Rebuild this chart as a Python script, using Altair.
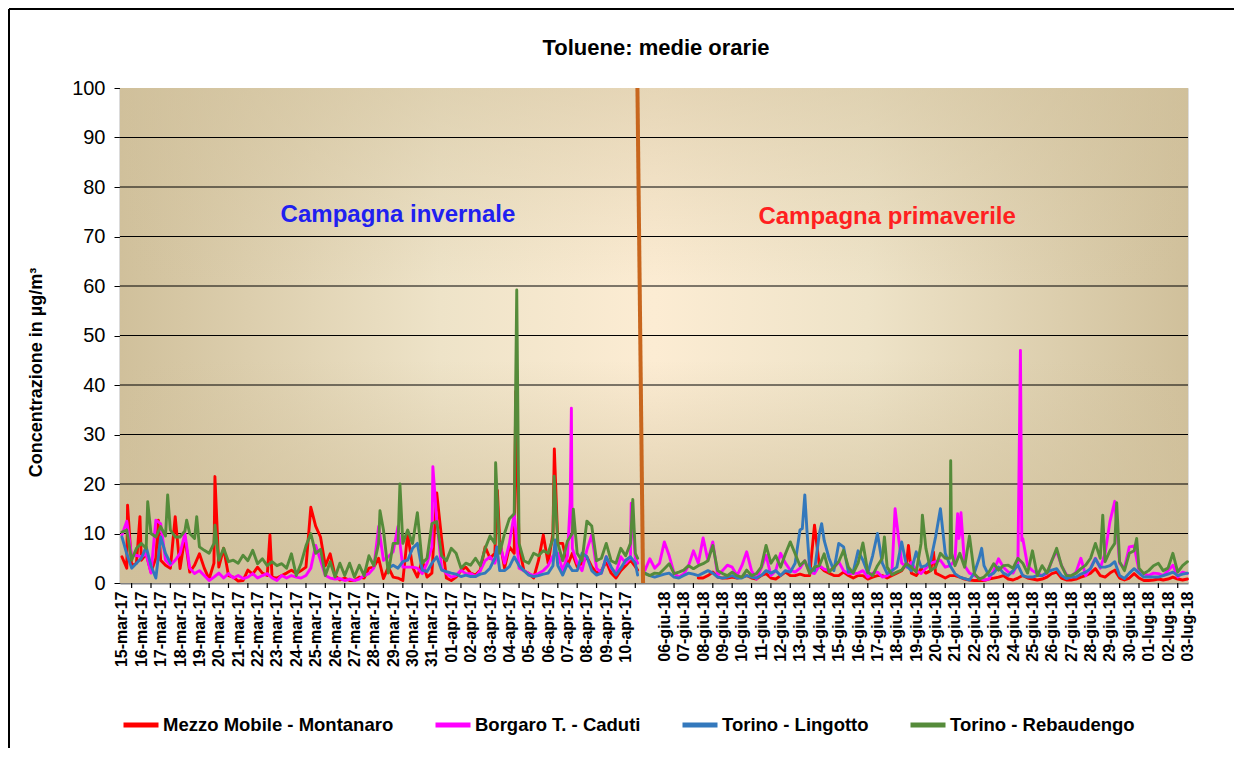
import altair as alt
import pandas as pd

FONT = "Liberation Sans"
SERIES = ["Mezzo Mobile - Montanaro", "Borgaro T. - Caduti", "Torino - Lingotto", "Torino - Rebaudengo"]
COLORS = ["#FF0000", "#FF00FF", "#3378BC", "#558B3A"]
SEP_COLOR = "#C8661E"
TITLE = "Toluene: medie orarie"

# x position unit = one day; winter day k sits at k, spring day j (06-giu) at 28 + j
WINTER_LABELS = ["15-mar-17", "16-mar-17", "17-mar-17", "18-mar-17", "19-mar-17", "20-mar-17",
                 "21-mar-17", "22-mar-17", "23-mar-17", "24-mar-17", "25-mar-17", "26-mar-17",
                 "27-mar-17", "28-mar-17", "29-mar-17", "30-mar-17", "31-mar-17", "01-apr-17",
                 "02-apr-17", "03-apr-17", "04-apr-17", "05-apr-17", "06-apr-17", "07-apr-17",
                 "08-apr-17", "09-apr-17", "10-apr-17"]
SPRING_LABELS = ["06-giu-18", "07-giu-18", "08-giu-18", "09-giu-18", "10-giu-18", "11-giu-18",
                 "12-giu-18", "13-giu-18", "14-giu-18", "15-giu-18", "16-giu-18", "17-giu-18",
                 "18-giu-18", "19-giu-18", "20-giu-18", "21-giu-18", "22-giu-18", "23-giu-18",
                 "24-giu-18", "25-giu-18", "26-giu-18", "27-giu-18", "28-giu-18", "29-giu-18",
                 "30-giu-18", "01-lug-18", "02-lug-18", "03-lug-18"]
SPRING_LABEL_START = 28

STEP = 0.25
WINTER_START = 0.0
SPRING_START = 27.0
N = None

red_winter = [
    5.3, 3.0, 3.5, 4.0, 4.6, 5.9, 2.2, 5.0,
    4.6, 3.6, 3.0, 13.4, 2.9, 9.3, 2.2, 3.6,
    5.9, 3.0, 0.8, 4.0, 3.2, 7.0, 1.5, 1.2,
    0.4, 0.5, 2.6, 1.8, 3.2, 2.0, 1.5, 1.2,
    1.0, 1.5, 2.0, 2.6, 1.9, 2.5, 3.2, 15.3,
    11.5, 9.3, 3.5, 5.9, 1.5, 0.6, 1.0, 0.5,
    0.5, 1.2, 1.0, 3.0, 3.2, 5.0, 0.9, 3.2,
    1.2, 1.0, 0.5, 10.0, 3.2, 1.2, 4.6, 1.2,
    2.0, 18.2, 9.0, 1.0, 0.5, 1.2, 2.5, 3.2,
    2.0, 1.6, 2.6, 7.3, 5.0, 6.0, 8.7, 3.0,
    7.3, 6.0, 7.3, 2.5, 1.9, 1.0, 4.5, 9.7,
    4.0, 10.0, 8.0, 8.0, 3.5, 6.0, 3.3, 4.0,
    5.3, 3.3, 2.0, 2.5, 4.3, 2.0, 1.0, 2.5,
    3.5, 4.6, 3.3]
red_winter_peaks = [(0.29, 15.7), (0.93, 13.4), (1.88, 12.7), (4.8, 21.5), (7.64, 9.7),
                    (19.38, 18.7), (20.33, 38.7), (22.32, 27.1), (26.62, 2.6)]

magenta_winter = [
    9.7, 12.5, 5.5, 5.6, 5.3, 5.9, 2.0, 12.7,
    12.0, 4.6, 3.6, 4.6, 6.0, 10.0, 3.0, 1.9,
    2.5, 1.5, 0.5, 1.2, 2.0, 1.0, 1.9, 1.0,
    1.5, 0.9, 1.2, 1.9, 1.0, 1.5, 1.9, 1.0,
    0.5, 1.5, 1.0, 1.5, 1.2, 1.0, 1.5, 3.0,
    7.6, 4.6, 1.5, 1.0, 0.8, 0.9, 0.5, 0.8,
    0.5, 0.8, 1.5, 1.9, 3.0, 11.4, 4.6, 5.3,
    6.3, 11.4, 3.2, 3.2, 3.2, 3.0, 1.9, 4.0,
    7.3, 12.7, 3.0, 1.9, 1.2, 1.5, 2.6, 1.9,
    1.9, 1.3, 2.5, 4.5, 5.3, 4.0, 8.0, 4.0,
    8.0, 14.0, 3.0, 2.5, 1.9, 1.5, 1.9, 2.5,
    3.5, 5.5, 6.0, 2.5, 5.5, 7.0, 4.0, 2.5,
    6.7, 9.7, 3.0, 2.0, 5.3, 3.0, 2.0, 5.3,
    4.0, 5.0, 5.0]
magenta_winter_peaks = [(16.05, 23.5), (23.14, 16.4), (23.2, 35.3), (23.23, 15.0),
                        (26.29, 16.1), (26.62, 4.0)]

blue_winter = [
    9.3, 5.9, 3.0, 4.0, 5.0, 7.3, 3.5, 1.0,
    9.3, 6.0, 4.0, N, N, N, N, N,
    N, N, N, N, N, N, N, N,
    N, N, N, N, N, N, N, N,
    N, N, N, N, N, N, N, N,
    N, N, N, N, N, N, N, N,
    N, N, N, N, N, N, N, 3.0,
    3.6, 3.0, 4.3, 4.6, 7.0, 8.0, 2.6, 2.3,
    4.0, 5.3, 2.6, 2.3, 2.0, 1.8, 1.3, 1.6,
    1.3, 1.3, 1.8, 2.0, 3.0, 5.0, 2.5, 2.5,
    3.3, 5.3, 3.5, 2.5, 1.6, 1.3, 1.5, 1.8,
    2.0, 3.5, 3.5, 1.6, 3.9, 2.5, 2.5, 6.0,
    5.3, 2.5, 1.6, 2.0, 5.3, 3.3, 1.6, 3.0,
    4.6, 5.3, 4.0]
blue_winter_peaks = [(19.35, 7.3), (22.36, 8.7), (26.62, 1.6)]

green_winter = [
    10.3, 10.7, 4.6, 7.0, 8.0, 7.0, 10.0, 9.3,
    11.4, 9.5, 10.7, 9.3, 9.3, 10.5, 10.0, 9.0,
    7.3, 6.6, 6.0, 8.0, 4.6, 7.0, 4.3, 4.6,
    4.0, 5.6, 4.5, 6.6, 3.9, 4.9, 3.5, 4.3,
    3.5, 3.9, 3.0, 5.9, 1.5, 4.0, 7.5, 10.0,
    6.0, 6.8, 1.5, 4.3, 1.2, 4.0, 1.5, 4.0,
    1.2, 3.6, 1.5, 5.5, 3.5, 8.0, 10.7, 2.0,
    8.0, 8.0, 8.0, 10.7, 8.0, 14.2, 4.0, 5.0,
    12.0, 12.4, 5.5, 4.5, 7.0, 6.0, 3.0, 4.0,
    3.6, 5.0, 3.5, 7.0, 9.5, 8.0, 6.0, 10.0,
    13.0, 14.0, 8.0, 4.5, 4.0, 6.0, 5.5, 6.5,
    6.0, 9.0, 8.0, 4.5, 8.5, 10.0, 6.0, 4.5,
    12.5, 11.5, 4.5, 5.0, 8.0, 4.5, 4.0, 7.0,
    5.5, 8.0, 6.0]
green_winter_peaks = [(1.33, 16.4), (2.36, 17.8), (3.34, 12.7), (3.86, 13.4), (4.8, 11.7),
                      (13.32, 14.6), (14.35, 20.0), (19.29, 24.3), (20.38, 59.2), (22.31, 21.6),
                      (23.30, 14.9), (26.37, 16.9), (26.62, 5.0)]

red_spring = [
    N, N, N, N, N, N, N, N,
    N, N, N, 1.0, 1.0, 1.5, 2.2, 1.2,
    1.0, 1.0, 1.2, 1.0, 1.2, 1.5, 1.0, 0.8,
    1.5, 1.9, 1.0, 0.8, 1.5, 2.2, 1.5, 1.5,
    1.8, 1.5, 1.5, 11.7, 3.5, 2.5, 2.0, 1.5,
    1.5, 2.2, 1.5, 1.0, 1.5, 1.5, 0.8, 1.2,
    1.5, 1.5, 1.0, 1.5, 2.0, 2.5, 4.0, 2.0,
    1.5, 2.9, 2.0, 2.5, 2.0, 1.5, 1.0, 1.5,
    1.5, 1.2, 0.8, 0.6, 0.5, 0.5, 0.5, 0.8,
    1.0, 1.2, 1.5, 0.8, 0.6, 1.0, 1.5, 1.0,
    0.8, 0.6, 0.8, 1.2, 1.9, 2.2, 1.0, 0.6,
    0.6, 0.8, 1.2, 1.5, 2.0, 2.9, 1.5, 1.2,
    2.0, 2.6, 1.0, 0.6, 1.0, 1.9, 1.0, 0.5,
    0.5, 0.6, 0.8, 0.6, 0.8, 1.2, 0.8, 0.6,
    0.8]
red_spring_peaks = [(40.6, 7.6), (41.89, 6.3)]

magenta_spring = [
    2.6, 4.9, 3.0, 4.0, 8.3, 5.5, 2.0, 1.2,
    1.8, 3.5, 6.5, 4.0, 9.1, 4.5, 8.3, 1.5,
    2.5, 3.6, 3.2, 1.5, 3.5, 6.3, 2.5, 0.8,
    3.0, 5.6, 1.5, 2.5, 6.0, 4.0, 2.6, 2.2,
    3.0, 4.5, 2.2, 1.9, 3.5, 2.8, 2.5, 3.0,
    4.3, 2.5, 1.9, 1.9, 2.0, 2.5, 1.2, 2.0,
    2.2, 1.2, 1.5, 2.2, 12.0, 4.0, 3.2, 4.2,
    2.5, 1.9, 3.0, 4.0, 4.3, 4.6, 3.2, 3.5,
    4.6, 10.0, 3.5, 2.0, 1.5, 1.0, 0.6, 0.8,
    2.5, 4.9, 3.2, 2.2, 2.0, 4.0, 9.0, 3.5,
    2.5, 1.9, 1.5, 1.9, 4.5, 6.5, 3.5, 1.7,
    1.2, 2.2, 5.0, 1.5, 3.0, 5.0, 3.0, 6.0,
    12.4, 16.5, 4.0, 3.0, 7.3, 7.5, 2.5, 1.9,
    1.5, 2.0, 1.9, 1.5, 2.5, 3.6, 1.2, 2.2,
    1.9]
magenta_spring_peaks = [(39.91, 15.0), (43.14, 14.0), (43.2, 9.0), (43.31, 14.2),
                        (46.38, 47.0), (46.45, 8.6)]

blue_spring = [
    2.0, 1.5, 1.2, 1.5, 1.8, 2.0, 1.2, 1.0,
    1.5, 2.0, 1.8, 1.5, 2.0, 2.5, 2.0, 1.2,
    1.0, 1.2, 1.5, 1.0, 1.0, 1.5, 1.2, 1.0,
    1.5, 2.5, 2.0, 2.5, 1.5, 2.5, 2.2, 4.0,
    10.7, 17.8, 3.0, 2.5, 10.0, 8.6, 5.0, 2.5,
    8.0, 7.3, 2.2, 2.3, 6.5, 4.6, 2.0, 5.5,
    10.0, 4.0, 1.9, 2.5, 3.2, 8.3, 3.5, 2.5,
    6.3, 3.2, 3.5, 4.6, 9.3, 15.0, 6.0, 3.5,
    1.9, 1.2, 0.9, 0.6, 2.0, 5.0, 3.5, 1.5,
    2.0, 3.2, 2.0, 1.5, 2.5, 3.6, 1.5, 1.2,
    1.2, 1.5, 1.5, 2.2, 2.6, 2.9, 1.5, 0.9,
    1.2, 1.2, 1.8, 2.2, 2.9, 4.9, 3.2, 3.2,
    3.5, 4.3, 1.5, 0.9, 2.0, 2.9, 2.0, 1.2,
    1.2, 1.2, 1.2, 1.5, 1.8, 2.2, 1.5, 1.8,
    2.0]
blue_spring_peaks = [(35.12, 11.0), (35.37, 10.0), (36.12, 12.0), (44.38, 7.0)]

green_spring = [
    1.9, 1.5, 2.0, 1.9, 2.9, 3.9, 1.9, 2.2,
    2.6, 3.5, 2.9, 3.5, 3.9, 4.5, 7.6, 2.5,
    1.9, 1.5, 2.2, 1.5, 1.2, 2.6, 1.5, 1.9,
    3.2, 7.6, 4.0, 5.5, 3.2, 5.9, 8.3, 5.9,
    3.5, 4.5, 1.9, 3.2, 3.5, 5.9, 2.2, 3.2,
    4.3, 6.6, 3.2, 2.0, 4.0, 8.1, 2.2, 1.5,
    3.5, 5.0, 3.2, 1.7, 2.2, 2.6, 3.9, 3.2,
    2.2, 8.0, 7.0, 2.5, 3.2, 6.0, 5.0, 5.0,
    3.5, 6.0, 3.2, 9.5, 1.9, 0.8, 1.2, 2.2,
    3.9, 2.6, 3.5, 3.6, 3.0, 5.0, 4.0, 2.0,
    6.5, 1.5, 3.5, 2.0, 4.5, 7.0, 3.5, 1.5,
    1.5, 2.0, 2.9, 3.6, 5.0, 8.0, 5.0, 4.3,
    6.5, 8.0, 4.3, 2.5, 6.0, 6.5, 3.0, 1.9,
    2.5, 3.5, 4.0, 2.5, 3.0, 6.0, 2.2, 3.5,
    4.3]
green_spring_peaks = [(39.36, 9.3), (41.32, 13.7), (42.78, 24.7), (42.83, 6.0),
                      (50.63, 13.7), (51.35, 16.2), (52.38, 9.0)]

# campaign separator (top at 100, bottom at 0) and the two campaign captions
SEP_U = [26.61, 26.90]
SEP_V = [100, 0]
NOTE_TEXT = ["Campagna invernale", "Campagna primaverile"]
NOTE_U = [14.25, 39.5]
NOTE_V = [74.3, 73.9]
NOTE_COLOR = ["#2020F0", "#FF2020"]

Y_TICKS = list(range(0, 101, 10))

# ---------------------------------------------------------------- data table
SOURCES = {
    SERIES[0]: [(WINTER_START, red_winter, red_winter_peaks), (SPRING_START, red_spring, red_spring_peaks)],
    SERIES[1]: [(WINTER_START, magenta_winter, magenta_winter_peaks), (SPRING_START, magenta_spring, magenta_spring_peaks)],
    SERIES[2]: [(WINTER_START, blue_winter, blue_winter_peaks), (SPRING_START, blue_spring, blue_spring_peaks)],
    SERIES[3]: [(WINTER_START, green_winter, green_winter_peaks), (SPRING_START, green_spring, green_spring_peaks)],
}
rows = []
for name, parts in SOURCES.items():
    seg = 0
    for start, vals, peaks in parts:
        pts = [(start + STEP * i, v) for i, v in enumerate(vals)] + list(peaks)
        pts.sort(key=lambda p: p[0])
        seg += 1
        prev_none = False
        for u, v in pts:
            if v is None:
                if not prev_none:
                    seg += 1
                prev_none = True
                continue
            prev_none = False
            rows.append({"series": name, "u": u, "v": v, "seg": seg})
df = pd.DataFrame(rows)

label_all = WINTER_LABELS + [""] * (SPRING_LABEL_START - len(WINTER_LABELS)) + SPRING_LABELS
label_values = list(range(len(WINTER_LABELS))) + list(range(SPRING_LABEL_START, SPRING_LABEL_START + len(SPRING_LABELS)))
label_expr = "[" + ",".join("'%s'" % s for s in label_all) + "][datum.value]"
tick_u = [k + 0.5 for k in range(len(WINTER_LABELS))] + \
         [SPRING_LABEL_START + j + 0.5 for j in range(len(SPRING_LABELS) - 1)]

W, H = 1068, 495
PAD = {"left": 112, "top": 80, "right": 48, "bottom": 165}
xscale = alt.Scale(domain=[-0.1, 55.03], nice=False, zero=False)
yscale = alt.Scale(domain=[0, 100], nice=False)

xaxis = alt.Axis(values=label_values, labelExpr=label_expr, labelAngle=-90, labelFontSize=16,
                 labelFont=FONT, labelFontWeight="bold", labelColor="black", labelPadding=8,
                 labelOverlap=False, labelFlush=False, labelBound=False, ticks=False, grid=False,
                 domainColor="#808080", domainWidth=2, title=None)
yaxis = alt.Axis(values=Y_TICKS, labelFontSize=20, labelFont=FONT, labelColor="black",
                 labelPadding=9, tickSize=6, tickColor="black", tickWidth=1, grid=False,
                 domainColor="#707070", domainWidth=1.5, title="Concentrazione in µg/m³",
                 titleFont=FONT, titleFontSize=18, titleFontWeight="bold", titleColor="black",
                 titleAngle=-90, titleX=-79, titleY=284, titleBaseline="alphabetic", titleAlign="center")
X = alt.X("u:Q", scale=xscale, axis=xaxis)
Y = alt.Y("v:Q", scale=yscale, axis=yaxis)

one = pd.DataFrame({"k": [1]})
h_grad = alt.LinearGradient(gradient="linear", x1=0, y1=0, x2=1, y2=0, stops=[
    alt.GradientStop(color="#D0C09B", offset=0),
    alt.GradientStop(color="#EEE3C8", offset=0.3),
    alt.GradientStop(color="#FCECD3", offset=0.5),
    alt.GradientStop(color="#EEE3C8", offset=0.7),
    alt.GradientStop(color="#D0C09B", offset=1)])
v_grad = alt.LinearGradient(gradient="linear", x1=0, y1=0, x2=0, y2=1, stops=[
    alt.GradientStop(color="rgba(208,192,155,0.5)", offset=0),
    alt.GradientStop(color="rgba(208,192,155,0)", offset=0.4),
    alt.GradientStop(color="rgba(208,192,155,0)", offset=0.55),
    alt.GradientStop(color="rgba(208,192,155,0.9)", offset=1)])

bg1 = alt.Chart(one).mark_rect(fill=h_grad).encode(
    x=alt.value(0), x2=alt.value(W), y=alt.value(0), y2=alt.value(H))
bg2 = alt.Chart(one).mark_rect(fill=v_grad).encode(
    x=alt.value(0), x2=alt.value(W), y=alt.value(0), y2=alt.value(H))

grid = alt.Chart(pd.DataFrame({"v": Y_TICKS[1:-1]})).mark_rule(color="black", strokeWidth=1).encode(y=Y)
ticks = alt.Chart(pd.DataFrame({"u": tick_u})).mark_rule(color="black", strokeWidth=1.2).encode(
    x=X, y=alt.value(H), y2=alt.value(H + 5))

legend = alt.Legend(orient="none", legendX=1, legendY=617, direction="horizontal", title=None,
                    symbolType="stroke", symbolStrokeWidth=5, symbolSize=1225, labelFont=FONT,
                    labelFontSize=18.5, labelFontWeight="bold", labelColor="black", labelLimit=500,
                    labelOffset=2, columnPadding=31)
color = alt.Color("series:N", scale=alt.Scale(domain=SERIES, range=COLORS), legend=legend)

line_layers = []
for name in SERIES:
    line_layers.append(
        alt.Chart(df).transform_filter(alt.datum.series == name)
        .mark_line(strokeWidth=2.9, strokeJoin="round", strokeCap="round")
        .encode(x=X, y=Y, color=color, detail="seg:N", order="u:Q"))

sep_df = pd.DataFrame({"u": [SEP_U[0]], "u2": [SEP_U[1]], "v": [SEP_V[0]], "v2": [SEP_V[1]]})
sep = alt.Chart(sep_df).mark_rule(color=SEP_COLOR, strokeWidth=4).encode(x=X, x2="u2:Q", y=Y, y2="v2:Q")

note_layers = []
for t, u, v, c in zip(NOTE_TEXT, NOTE_U, NOTE_V, NOTE_COLOR):
    note_layers.append(
        alt.Chart(pd.DataFrame({"u": [u], "v": [v], "t": [t]}))
        .mark_text(font=FONT, fontSize=24, fontWeight="bold", color=c, align="center", baseline="middle")
        .encode(x=X, y=Y, text="t:N"))

# chart title, drawn as text above the plot area
title = alt.Chart(pd.DataFrame({"t": [TITLE]})).mark_text(
    font=FONT, fontSize=22, fontWeight="bold", color="black", align="center", baseline="alphabetic"
).encode(x=alt.value(W / 2 + 2), y=alt.value(-33), text="t:N")

# outer chart border: left edge only (top edge is drawn with the left one)
frame_left = alt.Chart(one).mark_rule(color="black", strokeWidth=2).encode(
    x=alt.value(-111), y=alt.value(-79), y2=alt.value(H + PAD["bottom"]))
frame_top = alt.Chart(one).mark_rule(color="black", strokeWidth=2).encode(
    x=alt.value(-111), x2=alt.value(W + PAD["right"] - 2), y=alt.value(-79))

chart = alt.layer(bg1, bg2, grid, ticks, *line_layers, sep, *note_layers, title,
                  frame_left, frame_top).properties(
    width=W, height=H,
    autosize=alt.AutoSizeParams(type="none"),
    padding=PAD,
).configure_view(stroke="#808080", strokeWidth=1.5).configure(background="#FFFFFF")

chart.save("out.html", embed_options={"renderer": "svg", "actions": False})
